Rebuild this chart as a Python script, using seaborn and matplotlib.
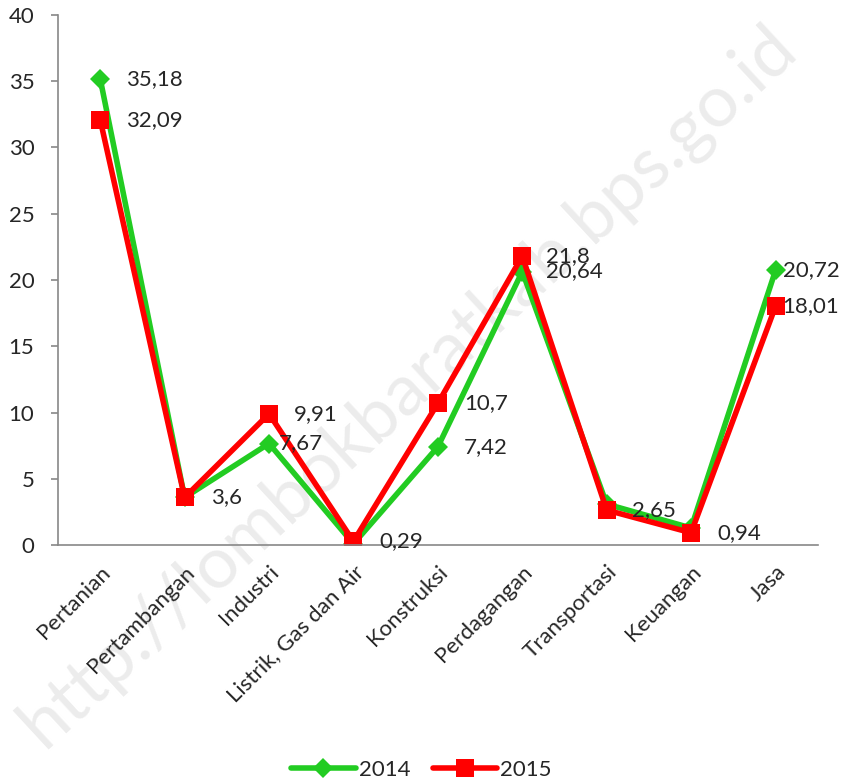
import pandas as pd
import matplotlib
matplotlib.use('Agg')
import matplotlib.pyplot as plt
import seaborn as sns

# Data
sektor = ['Pertanian', 'Pertambangan', 'Industri', 'Listrik, Gas dan Air', 'Konstruksi',
          'Perdagangan', 'Transportasi', 'Keuangan', 'Jasa']
nilai_2014 = [35.18, 3.6, 7.67, 0.1, 7.42, 20.64, 3.1, 1.3, 20.72]
nilai_2015 = [32.09, 3.6, 9.91, 0.29, 10.7, 21.8, 2.65, 0.94, 18.01]
# which labels are visible in the original
label_2014 = ['35,18', '', '7,67', '', '7,42', '20,64', '', '', '20,72']
label_2015 = ['32,09', '3,6', '9,91', '0,29', '10,7', '21,8', '2,65', '0,94', '18,01']

# horizontal label offsets (px) as placed in the original
off_2014 = [26, 0, 10, 0, 26, 24, 0, 0, 7]
off_2015 = [26, 26, 25, 26, 26, 24, 25, 26, 7]

df = pd.DataFrame({
    'sektor': sektor * 2,
    'nilai': nilai_2014 + nilai_2015,
    'tahun': ['2014'] * len(sektor) + ['2015'] * len(sektor),
})

sns.set_style('white')
plt.rcParams['font.family'] = ['Lato', 'DejaVu Sans']
FS = 16

fig = plt.figure(figsize=(8.43, 7.80), dpi=100)
fig.text(0.485, 0.505, 'http://lombokbaratkab.bps.go.id', rotation=42.7, fontsize=52,
         color='#ececec', ha='center', va='center', zorder=-5)

ax = fig.add_axes([0.0688, 0.301, 0.9012, 0.680])
ax.patch.set_alpha(0)

sns.lineplot(data=df, x='sektor', y='nilai', hue='tahun', style='tahun',
             palette={'2014': '#22cc22', '2015': '#ff0000'},
             markers={'2014': 'D', '2015': 's'}, dashes=False, sort=False,
             linewidth=4, markersize=13, markeredgewidth=0, ax=ax)
ax.lines[0].set_markersize(10)

# data labels
px = 72 / 100
for i, (v, t, o) in enumerate(zip(nilai_2014, label_2014, off_2014)):
    if t:
        ax.annotate(t, (i, v), xytext=(o * px, 0), textcoords='offset points',
                    va='center', ha='left', fontsize=FS)
for i, (v, t, o) in enumerate(zip(nilai_2015, label_2015, off_2015)):
    if t:
        ax.annotate(t, (i, v), xytext=(o * px, 0), textcoords='offset points',
                    va='center', ha='left', fontsize=FS)

ax.set_xlim(-0.5, len(sektor) - 0.5)
ax.set_ylim(0, 40)
ax.set_yticks(range(0, 41, 5))
ax.set_xticks(range(len(sektor)))
ax.set_xticklabels(sektor, rotation=45, ha='right', rotation_mode='anchor')
ax.set_xticks([i - 0.5 for i in range(len(sektor) + 1)], minor=True)
ax.tick_params(axis='x', which='major', length=0, pad=12, labelsize=FS)
ax.tick_params(axis='x', which='minor', length=5, width=1.2, color='#888888', direction='out')
ax.tick_params(axis='y', length=5, width=1.2, color='#888888', direction='out', left=True,
               labelsize=FS, pad=12)
ax.set_xlabel('')
ax.set_ylabel('')

for s in ['top', 'right']:
    ax.spines[s].set_visible(False)
for s in ['left', 'bottom']:
    ax.spines[s].set_color('#888888')
    ax.spines[s].set_linewidth(1.2)

# legend at bottom
handles, labels = ax.get_legend_handles_labels()
handles[0].set_markersize(10)
ax.get_legend().remove()
fig.legend(handles, labels, loc='lower center', bbox_to_anchor=(0.5, -0.025), ncol=2,
           frameon=False, fontsize=FS, handlelength=2.9, columnspacing=1.0, handletextpad=0.15)

fig.savefig('out.png', dpi=100)
